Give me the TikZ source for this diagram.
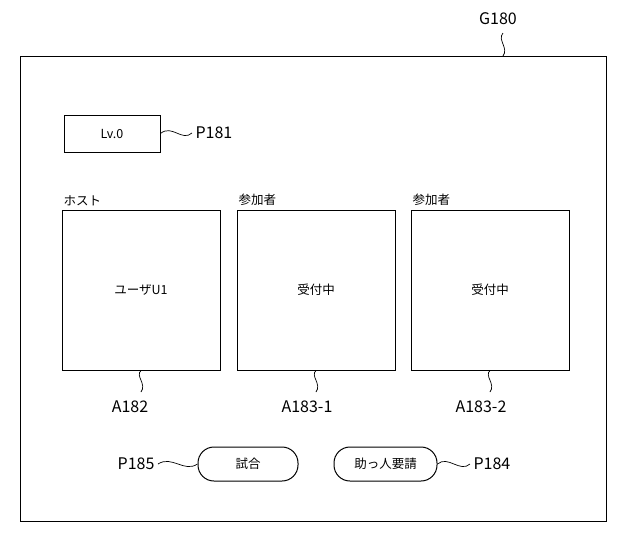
\documentclass[tikz,border=0pt]{standalone}
\usepackage{fontspec}
\setmainfont{Noto Sans CJK JP}
\begin{document}
\begin{tikzpicture}[x=1pt,y=-1pt,
  box/.style={draw,line width=1pt,inner sep=0pt},
  pill/.style={draw,line width=1pt,rounded corners=16pt,minimum width=100pt,minimum height=34pt,font=\fontsize{12.5}{14}\selectfont},
  lbl/.style={font=\fontsize{16}{18}\selectfont},
  sm/.style={font=\fontsize{12.5}{14}\selectfont},
  lead/.style={line width=0.7pt}]
\useasboundingbox (0,0) rectangle (640,539);
\node[box,minimum width=586pt,minimum height=465pt] (outer) at (313,288.5) {};
\node[lbl] (g) at (498,19) {G180};
\draw[lead] (503,33) .. controls (497,40) and (509,48) .. (503,56);
\node[box,minimum width=96pt,minimum height=37pt,sm] (lv) at (112,133.5) {Lv.0};
\node[lbl,anchor=west] (p181) at (192,133) {P181};
\draw[lead] (lv.east) .. controls (172,124) and (182,142) .. (p181.west);
\node[box,minimum width=158pt,minimum height=160pt,sm] (a1) at (141,290) {ユーザU1};
\node[box,minimum width=158pt,minimum height=160pt,sm] (a2) at (316,290) {受付中};
\node[box,minimum width=158pt,minimum height=160pt,sm] (a3) at (490,290) {受付中};
\node[sm,anchor=south west] (h1) at (60,209) {ホスト};
\node[sm,anchor=south west] (h2) at (235,209) {参加者};
\node[sm,anchor=south west] (h3) at (409,209) {参加者};
\node[lbl] (l1) at (130,407) {A182};
\node[lbl] (l2) at (307,407) {A183-1};
\node[lbl] (l3) at (481,407) {A183-2};
\draw[lead] (a1.south) .. controls (135,376) and (147,384) .. (141,392);
\draw[lead] (a2.south) .. controls (310,376) and (322,384) .. (316,392);
\draw[lead] (a3.south) .. controls (484,376) and (496,384) .. (490,392);
\node[pill] (b1) at (248,464) {試合};
\node[pill,minimum width=103pt] (b2) at (385.5,464) {助っ人要請};
\node[lbl,anchor=east] (p185) at (158,464) {P185};
\node[lbl,anchor=west] (p184) at (470,464) {P184};
\draw[lead] (p185.east) .. controls (172,455) and (184,473) .. (b1.west);
\draw[lead] (b2.east) .. controls (448,455) and (460,473) .. (p184.west);
\end{tikzpicture}
\end{document}
